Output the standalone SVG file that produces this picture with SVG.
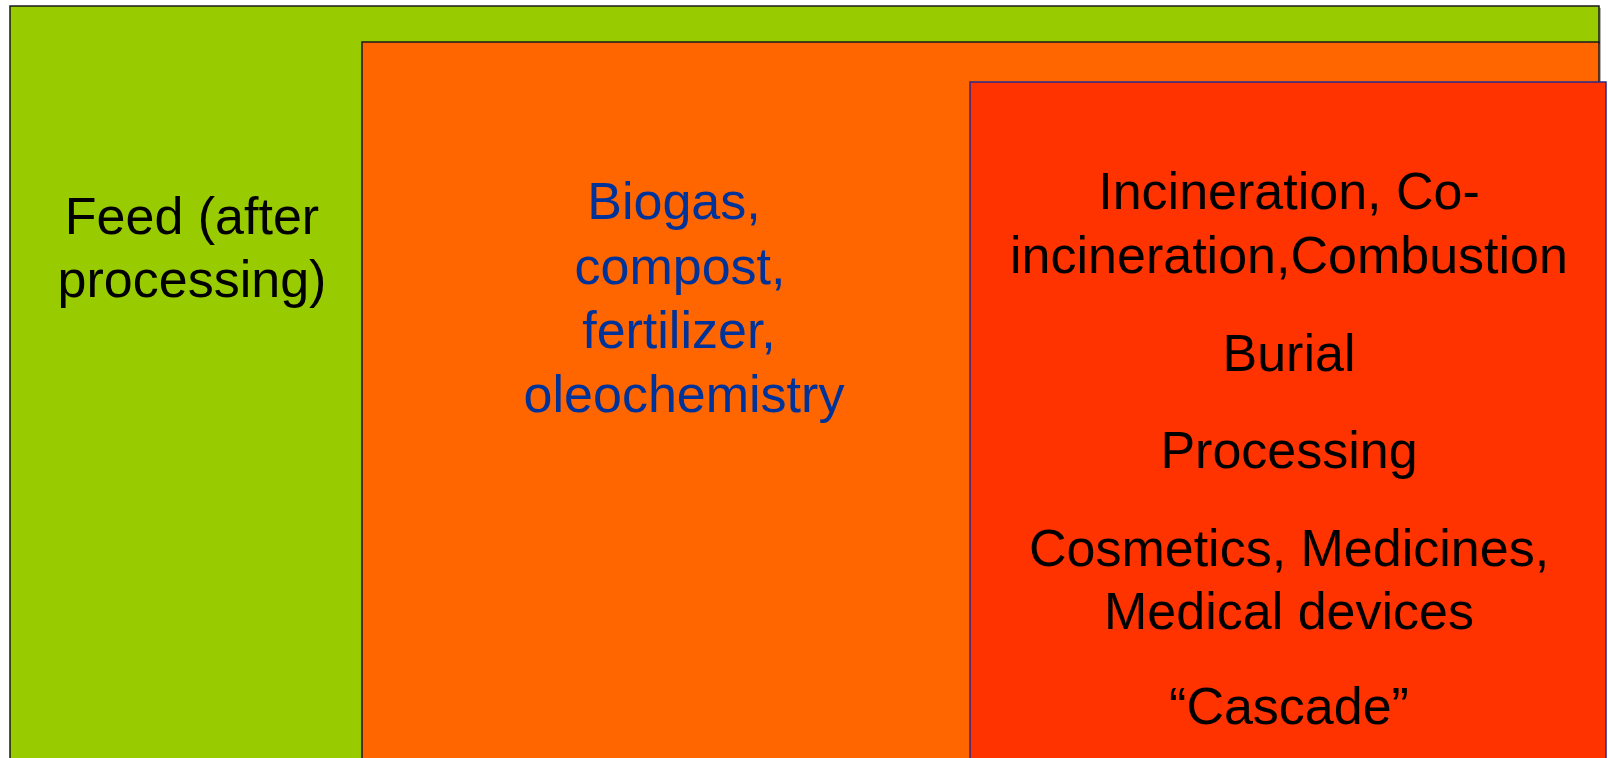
<svg xmlns="http://www.w3.org/2000/svg" width="1608" height="758" viewBox="0 0 1608 758">
  <style>
    .lbl { font-family: "Liberation Sans", Arial, sans-serif; font-size: 52px; text-anchor: middle; }
    .blk { fill: #000000; }
    .blu { fill: #003399; }
    .shadow { fill: #b0b0b0; }
  </style>
  <rect x="0" y="0" width="1608" height="758" fill="#ffffff"/>
  <g id="feed">
    <rect class="shadow" x="12" y="8" width="1589" height="760"/>
    <rect x="10" y="6" width="1589" height="760" fill="#99cc00" stroke="#1a1a1a" stroke-width="1.5"/>
    <text class="lbl blk" x="192" y="234">Feed (after</text>
    <text class="lbl blk" x="192" y="297">processing)</text>
  </g>
  <g id="biogas">
    <rect class="shadow" x="364" y="44" width="1237" height="730"/>
    <rect x="362" y="42" width="1237" height="730" fill="#ff6600" stroke="#1a1a1a" stroke-width="1.5"/>
    <text class="lbl blu" x="674" y="219">Biogas,</text>
    <text class="lbl blu" x="680" y="284">compost,</text>
    <text class="lbl blu" x="679" y="348">fertilizer,</text>
    <text class="lbl blu" x="684" y="412">oleochemistry</text>
  </g>
  <g id="disposal">
    <rect x="970" y="82" width="636" height="700" fill="#ff3300" stroke="#2a2a8a" stroke-width="1.5"/>
    <text class="lbl blk" x="1289" y="209">Incineration, Co-</text>
    <text class="lbl blk" x="1289" y="273">incineration,Combustion</text>
    <text class="lbl blk" x="1289" y="371">Burial</text>
    <text class="lbl blk" x="1289" y="468">Processing</text>
    <text class="lbl blk" x="1289" y="566">Cosmetics, Medicines,</text>
    <text class="lbl blk" x="1289" y="629">Medical devices</text>
    <text class="lbl blk" x="1289" y="724">“Cascade”</text>
  </g>
  <g id="connectors"></g>
</svg>
